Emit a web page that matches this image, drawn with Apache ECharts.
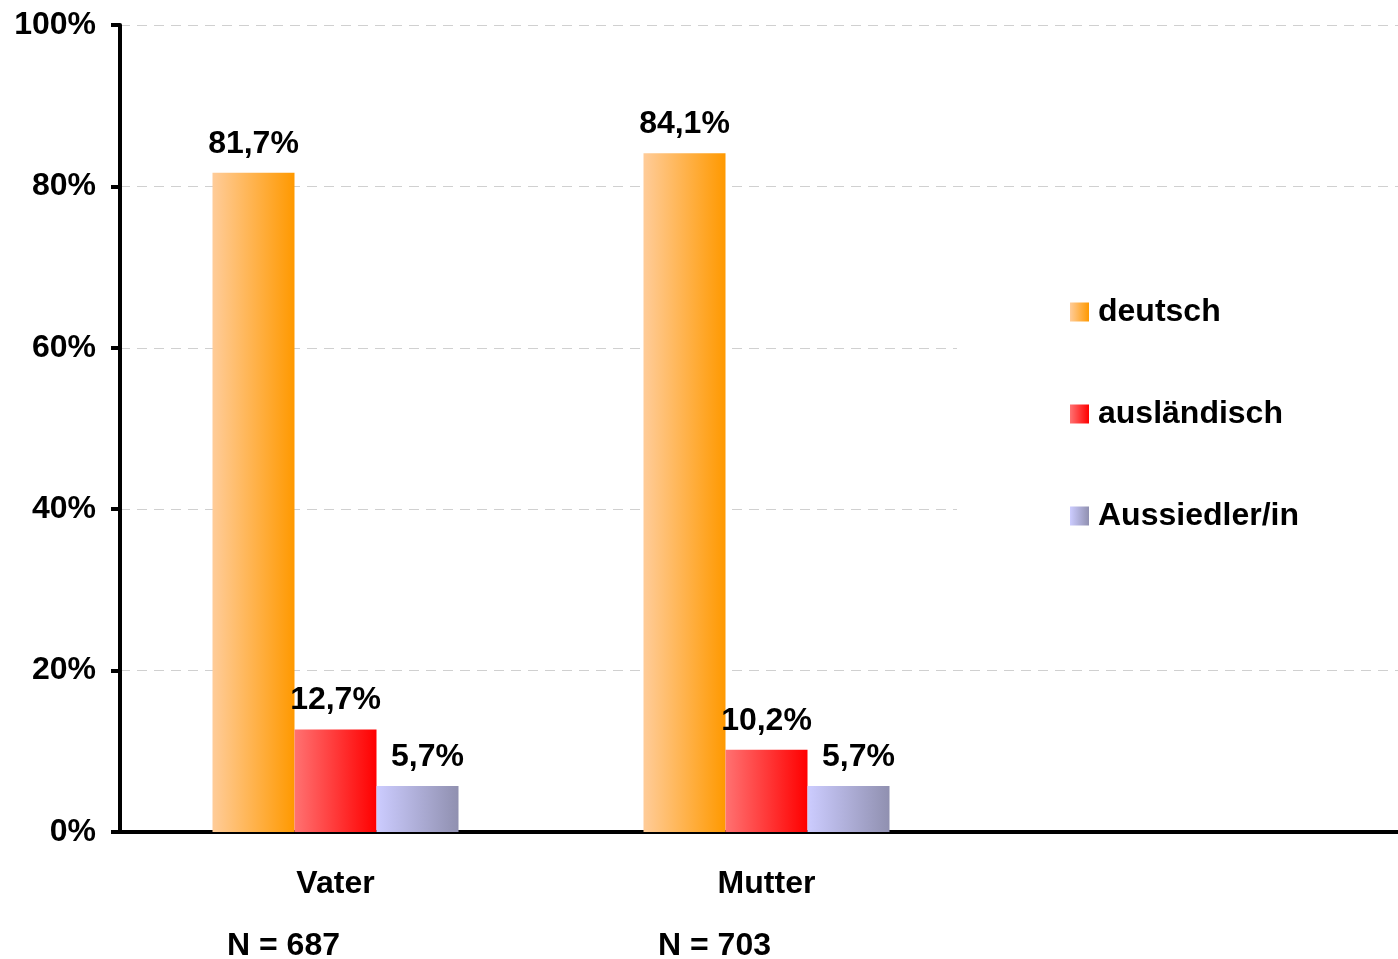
<!DOCTYPE html>
<html>
<head>
<meta charset="utf-8">
<script src="https://cdn.jsdelivr.net/npm/echarts@6/dist/echarts.min.js"></script>
<style>
  html, body { margin: 0; padding: 0; background: #fff; }
  #chart { width: 1398px; height: 959px; }
</style>
</head>
<body>
<div id="chart"></div>
<script>
// Daten
var categories = ["Vater", "Mutter", ""];
var sampleSizes = ["N = 687", "N = 703", ""];
var deutsch = [81.7, 84.1, null];
var auslaendisch = [12.7, 10.2, null];
var aussiedler = [5.7, 5.7, null];
var yTicks = [0, 20, 40, 60, 80, 100];

var fontFamily = "'Liberation Sans', Arial, sans-serif";

function grad(c1, c2) {
  return new echarts.graphic.LinearGradient(0, 0, 1, 0, [
    { offset: 0, color: c1 },
    { offset: 1, color: c2 }
  ]);
}

function fmt(v) {
  return String(v.toFixed(1)).replace(".", ",") + "%";
}

var myChart = echarts.init(document.getElementById("chart"));

var labelStyle = {
  show: true,
  position: "top",
  distance: 13,
  color: "#000",
  fontSize: 32,
  fontWeight: "bold",
  fontFamily: fontFamily,
  formatter: function (p) {
    return fmt(p.value);
  }
};

var option = {
  backgroundColor: "#fff",
  animation: false,
  grid: {
    left: 120,
    right: -15,
    top: 25,
    bottom: 127,
    containLabel: false,
    outerBoundsMode: "none"
  },
  legend: {
    orient: "vertical",
    left: 957,
    top: 190,
    backgroundColor: "#fff",
    padding: [106, 200, 138, 113],
    itemWidth: 19,
    itemHeight: 19,
    itemGap: 70,
    icon: "rect",
    textStyle: {
      color: "#000",
      fontSize: 32,
      fontWeight: "bold",
      fontFamily: fontFamily,
      lineHeight: 30,
      padding: [0, 0, 0, 4]
    },
    data: ["deutsch", "ausländisch", "Aussiedler/in"]
  },
  xAxis: {
    type: "category",
    data: categories,
    axisTick: { show: false },
    axisLine: {
      show: true,
      lineStyle: { color: "#000", width: 4 }
    },
    axisLabel: {
      margin: 22,
      interval: 0,
      formatter: function (val, i) {
        if (!val) return "";
        return "{c|" + val + "}\n{n|" + sampleSizes[i] + "}";
      },
      rich: {
        c: {
          fontSize: 32,
          fontWeight: "bold",
          fontFamily: fontFamily,
          color: "#000",
          lineHeight: 60,
          align: "center"
        },
        n: {
          fontSize: 32,
          fontWeight: "bold",
          fontFamily: fontFamily,
          color: "#000",
          lineHeight: 64,
          padding: [0, 104, 0, 0]
        }
      }
    }
  },
  yAxis: {
    type: "value",
    min: 0,
    max: 100,
    interval: 20,
    axisLine: {
      show: true,
      lineStyle: { color: "#000", width: 4 }
    },
    axisTick: {
      show: true,
      inside: false,
      length: 9,
      lineStyle: { color: "#000", width: 4 }
    },
    axisLabel: {
      margin: 24,
      color: "#000",
      fontSize: 32,
      fontWeight: "bold",
      fontFamily: fontFamily,
      formatter: function (v) {
        return yTicks.indexOf(v) >= 0 ? v + "%" : "";
      }
    },
    splitLine: {
      show: true,
      lineStyle: { type: [10, 7], color: "#d0d0d0", width: 1 }
    }
  },
  series: [
    {
      name: "deutsch",
      type: "bar",
      barWidth: 82,
      barGap: "0%",
      barCategoryGap: "43%",
      itemStyle: { color: grad("#FFCC99", "#FF9900") },
      label: labelStyle,
      data: deutsch
    },
    {
      name: "ausländisch",
      type: "bar",
      barWidth: 82,
      barGap: "0%",
      itemStyle: { color: grad("#FF7272", "#FF0000") },
      label: labelStyle,
      data: auslaendisch
    },
    {
      name: "Aussiedler/in",
      type: "bar",
      barWidth: 82,
      barGap: "0%",
      itemStyle: { color: grad("#CCCCFF", "#9090B0") },
      label: Object.assign({}, labelStyle, { offset: [10, 0] }),
      data: aussiedler
    }
  ]
};

myChart.setOption(option);
window.addEventListener("resize", function () {
  myChart.resize();
});
</script>
</body>
</html>
